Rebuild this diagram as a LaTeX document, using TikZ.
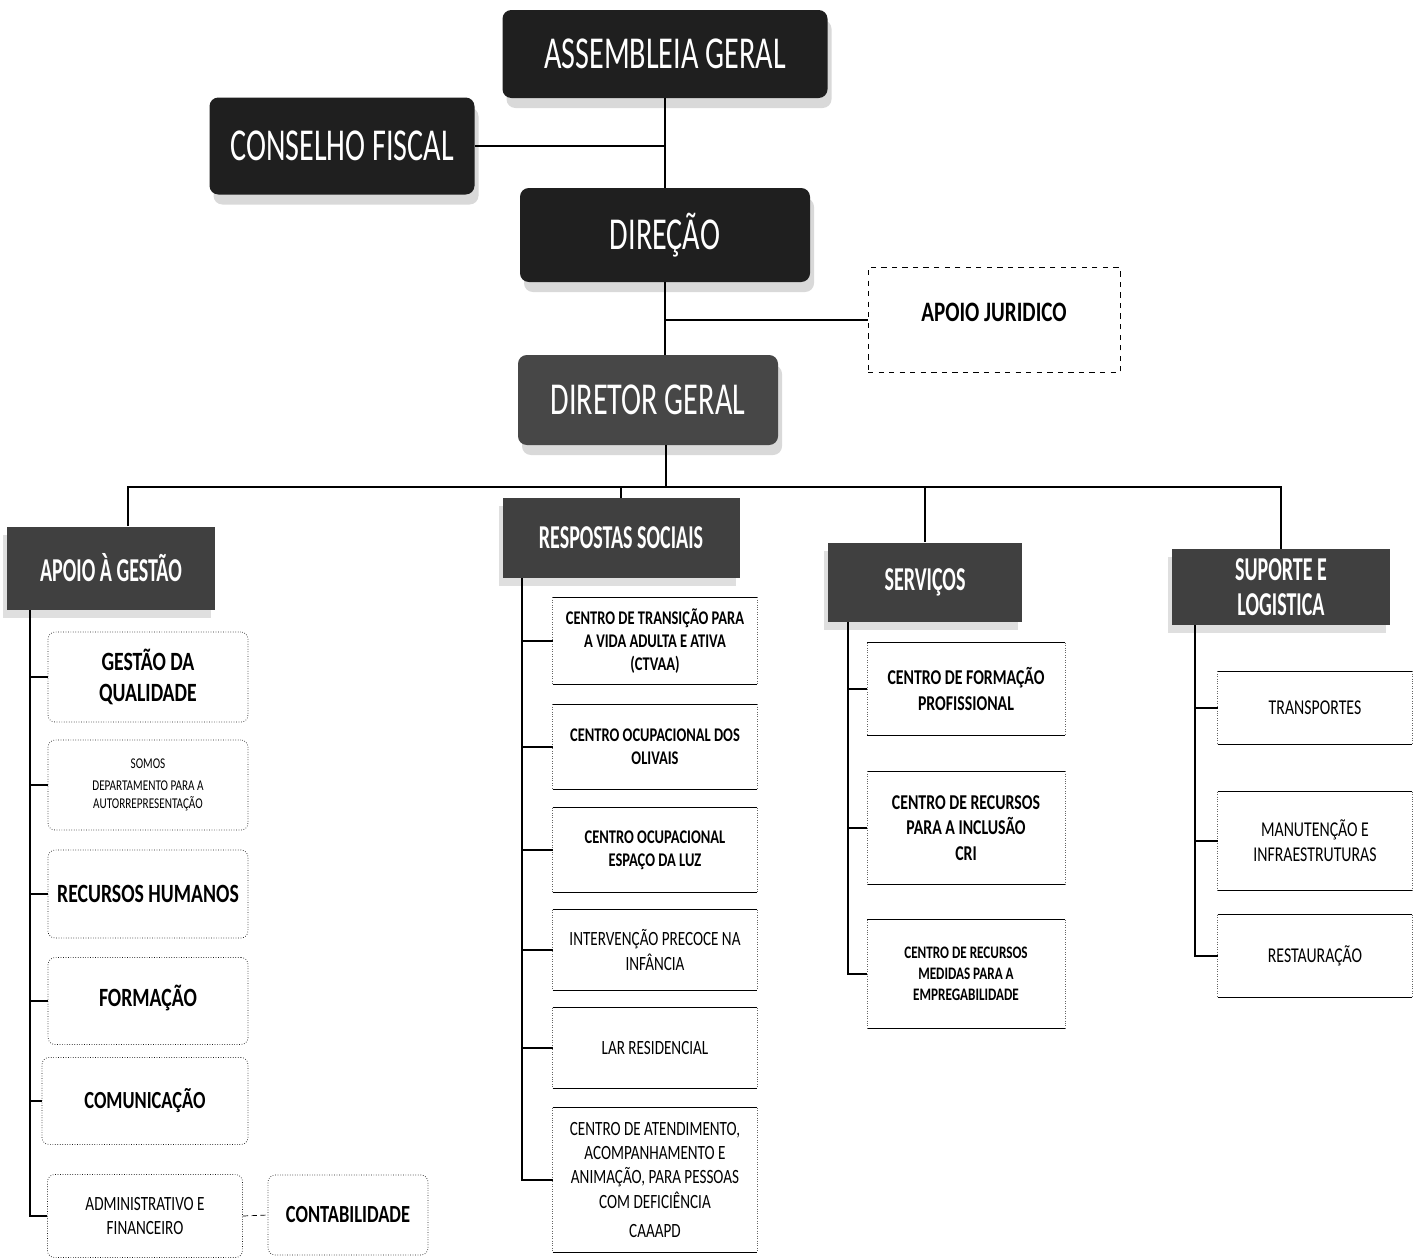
\documentclass[tikz,border=0pt]{standalone}
\usepackage{fontspec}
\setmainfont{Carlito}
\newfontfamily\tfont[FakeStretch=0.66]{Carlito}
\newfontfamily\afont[FakeStretch=0.6]{Carlito}
\newfontfamily\cfont[FakeStretch=0.75]{Carlito}
\newcommand\fs[1]{\fontsize{#1}{\dimexpr #1*6/5\relax}\selectfont}
\usetikzlibrary{shadows}

\tikzset{
  topbox/.style={rounded corners=5pt, fill=black!88, text=white, align=center,
    font=\tfont\fs{26pt},
    drop shadow={shadow xshift=0.8mm, shadow yshift=-2mm, opacity=0.3}},
  areabox/.style={fill=black!75, text=white, align=center, inner sep=1pt,
    font=\afont\bfseries\fs{19pt},
    drop shadow={shadow xshift=-0.8mm, shadow yshift=-1.6mm, opacity=0.25}},
  unitbox/.style={align=center, inner sep=1pt, font=\cfont\fs{11.5pt},
    append after command={
      (\tikzlastnode.north west) edge[line width=0.6pt] (\tikzlastnode.north east)
      (\tikzlastnode.south west) edge[line width=0.6pt] (\tikzlastnode.south east)
      (\tikzlastnode.north west) edge[densely dotted, black!60] (\tikzlastnode.south west)
      (\tikzlastnode.north east) edge[densely dotted, black!60] (\tikzlastnode.south east)}},
  gbox/.style={draw=black!90, densely dotted, rounded corners=4pt, align=center,
    inner sep=1pt, font=\cfont\bfseries\fs{15pt}},
  dashbox/.style={draw, dashed, align=center, font=\cfont\bfseries\fs{16pt}},
  link/.style={line width=1pt},
  spine/.style={line width=0.6pt},
}

\begin{document}
\begin{tikzpicture}[x=0.2mm, y=-0.2mm]
\useasboundingbox (0,0) rectangle (1416,1260);

% orgaos sociais e direcao
\node[topbox, minimum width=65mm, minimum height=17.6mm] (assembleia) at (665,54) {ASSEMBLEIA GERAL};
\node[topbox, minimum width=53mm, minimum height=19.4mm] (conselho) at (342,146) {CONSELHO FISCAL};
\node[topbox, minimum width=58mm, minimum height=18.8mm] (direcao) at (665,235) {DIREÇÃO};
\node[dashbox, minimum width=50.4mm, minimum height=21mm] (juridico) at (994,320) {\raisebox{3mm}{APOIO JURIDICO}};
\node[topbox, fill=black!72, minimum width=52mm, minimum height=18mm] (diretor) at (648,400) {DIRETOR GERAL};

\draw[link] (assembleia.south) -- (direcao.north);
\draw[link] (conselho.east) -- (conselho.east -| assembleia.south);
\draw[link] (direcao.south) -- (direcao.south |- diretor.north);
\draw[link] (juridico.west) -- (juridico.west -| direcao.south);

% areas
\node[areabox, minimum width=41.4mm, minimum height=16.6mm] (gestao) at (111,568) {APOIO À GESTÃO};
\node[areabox, minimum width=47.4mm, minimum height=16mm] (respostas) at (621,538) {RESPOSTAS SOCIAIS};
\node[areabox, minimum width=38.8mm, minimum height=15.8mm] (servicos) at (925,582) {SERVIÇOS};
\node[areabox, minimum width=43.6mm, minimum height=15.2mm,
  font=\afont\bfseries\fontsize{19pt}{20pt}\selectfont] (suporte) at (1281,587) {SUPORTE E\\LOGISTICA};

\coordinate (bus) at (666,487);
\draw[link] (diretor.south -| bus) -- (bus);
\draw[link] ([xshift=3.4mm]gestao.north) |- (bus) -| (suporte.north);
\draw[link] (respostas.north) -- (respostas.north |- bus);
\draw[link] (servicos.north) -- (servicos.north |- bus);

% apoio a gestao
\node[gbox, minimum width=40mm, minimum height=18mm] (gq) at (148,677) {GESTÃO DA\\QUALIDADE};
\node[gbox, minimum width=40mm, minimum height=18mm, font=\cfont\fs{8.5pt}] (somos) at (148,785) {SOMOS\\[2pt]DEPARTAMENTO PARA A\\AUTORREPRESENTAÇÃO};
\node[gbox, minimum width=40mm, minimum height=17.6mm] (rh) at (148,894) {RECURSOS HUMANOS};
\node[gbox, minimum width=40mm, minimum height=17.4mm] (form) at (148,1001) {\raisebox{2mm}{FORMAÇÃO}};
\node[gbox, minimum width=41.2mm, minimum height=17.4mm, font=\cfont\bfseries\fs{14pt}] (com) at (145,1101) {COMUNICAÇÃO};
\node[gbox, minimum width=39mm, minimum height=16.6mm, font=\cfont\fs{11.5pt}] (adm) at (145,1216) {ADMINISTRATIVO E\\FINANCEIRO};
\node[gbox, minimum width=32mm, minimum height=16mm, font=\cfont\bfseries\fs{14pt}] (cont) at (348,1215) {CONTABILIDADE};

\coordinate (gspine) at (30,610);
\foreach \n in {gq,somos,rh,form,com,adm}
  \draw[spine] (gspine) |- (\n.west);
\draw[densely dashed] (adm.east) -- (cont.west);

% respostas sociais
\node[unitbox, font=\cfont\bfseries\fs{11pt}, minimum width=40.8mm, minimum height=17.4mm] (ctvaa) at (655,641) {CENTRO DE TRANSIÇÃO PARA\\A VIDA ADULTA E ATIVA\\(CTVAA)};
\node[unitbox, font=\cfont\bfseries\fs{11pt}, minimum width=40.8mm, minimum height=17mm] (olivais) at (655,747) {CENTRO OCUPACIONAL DOS\\OLIVAIS};
\node[unitbox, font=\cfont\bfseries\fs{11pt}, minimum width=40.8mm, minimum height=16.8mm] (luz) at (655,850) {CENTRO OCUPACIONAL\\ESPAÇO DA LUZ};
\node[unitbox, minimum width=40.8mm, minimum height=16mm] (ipi) at (655,950) {INTERVENÇÃO PRECOCE NA\\INFÂNCIA};
\node[unitbox, minimum width=40.8mm, minimum height=16mm] (lar) at (655,1048) {LAR RESIDENCIAL};
\node[unitbox, minimum width=40.8mm, minimum height=28.8mm] (caaapd) at (655,1180) {CENTRO DE ATENDIMENTO,\\ACOMPANHAMENTO E\\ANIMAÇÃO, PARA PESSOAS\\COM DEFICIÊNCIA\\[3pt]CAAAPD};

\coordinate (rspine) at (522,578);
\foreach \n in {ctvaa,olivais,luz,ipi,lar,caaapd}
  \draw[spine] (rspine) |- (\n.west);

% servicos
\node[unitbox, font=\cfont\bfseries\fs{12pt}, minimum width=39.4mm, minimum height=18.4mm] (cfp) at (966,689) {CENTRO DE FORMAÇÃO\\PROFISSIONAL};
\node[unitbox, font=\cfont\bfseries\fs{12pt}, minimum width=39.4mm, minimum height=22.6mm] (cri) at (966,828) {CENTRO DE RECURSOS\\PARA A INCLUSÃO\\CRI};
\node[unitbox, font=\cfont\bfseries\fs{10pt}, minimum width=39.4mm, minimum height=21.6mm] (cre) at (966,974) {CENTRO DE RECURSOS\\MEDIDAS PARA A\\EMPREGABILIDADE};

\coordinate (sspine) at (848,622);
\foreach \n in {cfp,cri,cre}
  \draw[spine] (sspine) |- (\n.west);

% suporte e logistica
\node[unitbox, font=\cfont\fs{12pt}, minimum width=38.8mm, minimum height=14.6mm] (transp) at (1315,708) {TRANSPORTES};
\node[unitbox, font=\cfont\fs{12pt}, minimum width=38.8mm, minimum height=19.6mm] (manut) at (1315,841) {MANUTENÇÃO E\\INFRAESTRUTURAS};
\node[unitbox, font=\cfont\fs{12pt}, minimum width=38.8mm, minimum height=16.4mm] (rest) at (1315,956) {RESTAURAÇÃO};

\coordinate (lspine) at (1195,625);
\foreach \n in {transp,manut,rest}
  \draw[spine] (lspine) |- (\n.west);
\end{tikzpicture}
\end{document}
